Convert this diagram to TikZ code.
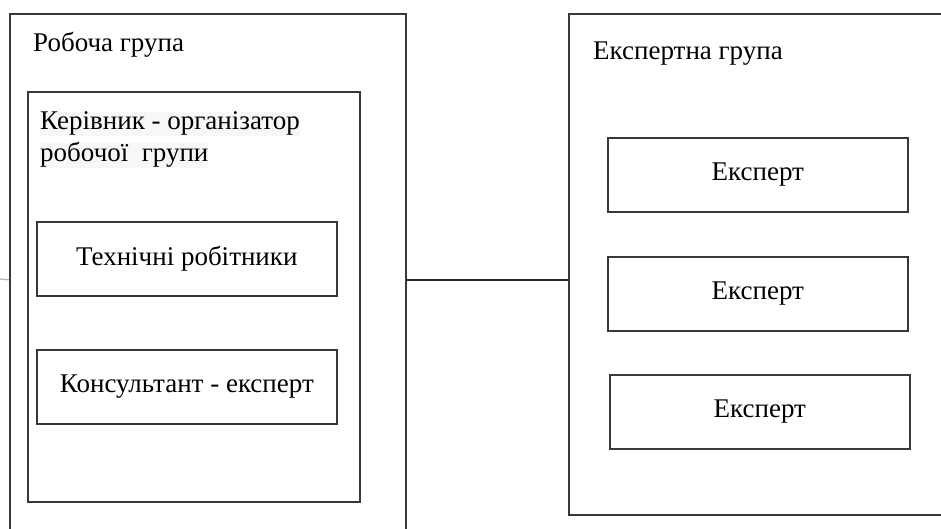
\documentclass[tikz,border=0pt]{standalone}
\usepackage{fontspec}
\setmainfont{Liberation Serif}
\definecolor{edge}{rgb}{0.22,0.22,0.22}
\definecolor{hl}{RGB}{246,247,249}
\begin{document}
\begin{tikzpicture}[x=1pt,y=-1pt,
  every node/.style={font=\fontsize{27}{32}\selectfont},
  frame/.style={draw=edge,line width=1.7pt,rectangle,inner sep=0pt,anchor=north west},
  itembox/.style={frame,minimum width=300pt,minimum height=74pt,align=center},
  label/.style={inner sep=0pt,anchor=base west},
  link/.style={draw=black!85,line width=1.6pt}]
\clip (0,0) rectangle (941,529);
\fill[white] (0,0) rectangle (941,529);
% left group
\node[frame,minimum width=396pt,minimum height=532pt] (outerL) at (9,13) {};
\node[frame,minimum width=332pt,minimum height=410pt] (innerL) at (27,91) {};
\node[label] (lblL) at (33,52) {Робоча група};
\node[label,fill=hl] (k1) at (40,130) {Керівник - організатор\hspace{5pt}};
\node[label,fill=hl] (k2) at (40,162) {робочої\ \ групи\hspace{2pt}};
\node[itembox] (tech) at (36,221) {Технічні робітники};
\node[itembox] (kons) at (36,349) {Консультант - експерт};
% right group
\node[frame,minimum width=420pt,minimum height=501pt] (outerR) at (568,13) {};
\node[label] (lblR) at (593,60) {Експертна група};
\node[itembox] (e1) at (607,137) {Експерт};
\node[itembox] (e2) at (607,256) {Експерт};
\node[itembox] (e3) at (609,374) {Експерт};
% connectors
\draw[link] (outerL.east) -- (outerL.east -| outerR.west);
\coordinate (stub) at (0,279);
\draw[draw=black!30,line width=1.2pt] (stub) -- (outerL.west);
\end{tikzpicture}
\end{document}
